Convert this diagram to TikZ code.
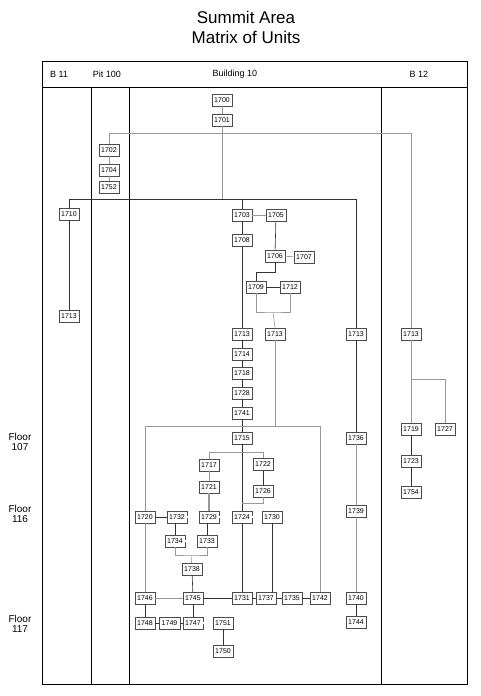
\documentclass[tikz,border=0pt]{standalone}
\usepackage{fontspec}
\setmainfont{Liberation Sans}
\usetikzlibrary{positioning}
\tikzset{
  unit/.style={draw=black!70, fill=white, align=center, inner sep=1pt, minimum width=20.5pt, minimum height=11.5pt, font=\fontsize{7}{8}\selectfont},
  link/.style={draw=black!80, line width=0.6pt},
  palelink/.style={draw=black!40, line width=0.6pt},
  dbllink/.style={draw=black!65, line width=0.45pt, double=white, double distance=1.1pt},
  frame/.style={draw=black, line width=0.9pt},
  colhead/.style={font=\fontsize{9}{10}\selectfont},
  floorlabel/.style={align=center, font=\fontsize{10}{10.5}\selectfont}
}
\begin{document}
\begin{tikzpicture}[x=1pt, y=-1pt]
\useasboundingbox (0,0) rectangle (481,696);
% title
\node[align=center, font=\fontsize{17}{20}\selectfont] (title) at (246,27) {Summit Area\\Matrix of Units};
% table
\draw[frame] (42,61) rectangle (467,684);
\draw[frame] (42,87) -- (467,87);
\foreach \cx in {91,129,381}
  \draw[frame] (\cx,87) -- (\cx,684);
\node[colhead] (hb11) at (59,74) {B 11};
\node[colhead] (hpit) at (107,74) {Pit 100};
\node[colhead] (hb10) at (235,74) {Building 10};
\node[colhead] (hb12) at (419,74) {B 12};
\node[floorlabel] (f107) at (20,442) {Floor\\107};
\node[floorlabel] (f116) at (20,514) {Floor\\116};
\node[floorlabel] (f117) at (20,624) {Floor\\117};

% units
\node[unit] (u1700) at (222,100) {1700};
\node[unit] (u1701) at (222,120) {1701};
\node[unit] (u1702) at (109,150) {1702};
\node[unit] (u1704) at (109,170) {1704};
\node[unit] (u1752) at (109,187) {1752};
\node[unit] (u1710) at (69,214) {1710};
\node[unit] (u1713w) at (69,316) {1713};
\node[unit] (u1703) at (242,215) {1703};
\node[unit] (u1705) at (276,215) {1705};
\node[unit] (u1708) at (242,240) {1708};
\node[unit] (u1706) at (275,256) {1706};
\node[unit] (u1707) at (304,257) {1707};
\node[unit] (u1709) at (256,287) {1709};
\node[unit] (u1712) at (290,287) {1712};
\node[unit] (u1713a) at (242,334) {1713};
\node[unit] (u1713b) at (275,334) {1713};
\node[unit] (u1713c) at (356,334) {1713};
\node[unit] (u1713e) at (411,334) {1713};
\node[unit] (u1714) at (242,354) {1714};
\node[unit] (u1718) at (242,373) {1718};
\node[unit] (u1728) at (242,393) {1728};
\node[unit] (u1741) at (242,413) {1741};
\node[unit] (u1715) at (242,438) {1715};
\node[unit] (u1717) at (209,465) {1717};
\node[unit] (u1722) at (263,464) {1722};
\node[unit] (u1721) at (209,487) {1721};
\node[unit] (u1726) at (263,491) {1726};
\node[unit] (u1720) at (145,517) {1720};
\node[unit] (u1732) at (177,517) {1732};
\node[unit] (u1729) at (209,517) {1729};
\node[unit] (u1724) at (242,517) {1724};
\node[unit] (u1730) at (272,517) {1730};
\node[unit] (u1734) at (175,541) {1734};
\node[unit] (u1733) at (207,541) {1733};
\node[unit] (u1738) at (192,569) {1738};
\node[unit] (u1746) at (145,598) {1746};
\node[unit] (u1745) at (193,598) {1745};
\node[unit] (u1731) at (242,598) {1731};
\node[unit] (u1737) at (266,598) {1737};
\node[unit] (u1735) at (292,598) {1735};
\node[unit] (u1742) at (320,598) {1742};
\node[unit] (u1748) at (145,623) {1748};
\node[unit] (u1749) at (169.5,623) {1749};
\node[unit] (u1747) at (193,623) {1747};
\node[unit] (u1751) at (223,623) {1751};
\node[unit] (u1750) at (223,651) {1750};
\node[unit] (u1736) at (356,438) {1736};
\node[unit] (u1739) at (356,511) {1739};
\node[unit] (u1740) at (356,598) {1740};
\node[unit] (u1744) at (356,622) {1744};
\node[unit] (u1719) at (411,429) {1719};
\node[unit] (u1727) at (445,429) {1727};
\node[unit] (u1723) at (411,461) {1723};
\node[unit] (u1754) at (411,492) {1754};

% bus lines
\coordinate (topbus) at (222,133);
\coordinate (midbus) at (222,199);
\coordinate (lowbus) at (242,426);
\coordinate (join1) at (273,312);
\coordinate (join2) at (191,555);
\coordinate (fork) at (242,452);
\coordinate (b12fork) at (411,379);

\draw[palelink] (u1700) -- (u1701);
\draw[palelink] (u1702.north) |- (u1713e |- topbus) -- (u1713e.north);
\draw[palelink] (u1701) -- (u1701 |- midbus);
\draw[link] (u1710.north) |- (u1713c |- midbus) -- (u1713c.north);
\draw[link] (u1703) -- (u1703 |- midbus);
\draw[palelink] (u1702) -- (u1704);
\draw[palelink] (u1704) -- (u1752);
\draw[link] (u1710) -- (u1713w);

% building 10, upper part
\draw[palelink] (u1703) -- (u1705);
\draw[link] (u1705) -- (u1706);
\draw[palelink] (u1706) -- (u1707);
\draw[link] (u1706.south) -- ++(0,10) -| (u1709.north);
\draw[link] (u1709) -- (u1712);
\draw[palelink] (u1709.south) |- (join1) -| (u1712.south);
\draw[palelink] (join1) -- (u1713b.north);
\foreach \a/\b in {u1703/u1708, u1708/u1713a, u1713a/u1714, u1714/u1718,
                   u1718/u1728, u1728/u1741, u1741/u1715}
  \draw[link] (\a) -- (\b);
\draw[palelink] (u1713b) -- (u1713b |- lowbus);
\draw[palelink] (u1720.north) |- (u1742 |- lowbus) -- (u1742.north);

% building 10, floors 107-117
\draw[link] (u1715) -- (u1724);
\draw[palelink] (u1717.north) |- (u1722.north |- fork) -- (u1722.north);
\draw[link] (u1722) -- (u1726);
\draw[palelink] (u1726.south) -- ++(0,6) -- ++(-21,0);
\draw[palelink] (u1717) -- (u1721);
\draw[palelink, line width=1.3pt] (u1721) -- (u1729);
\draw[link] (u1720) -- (u1732);
\draw[dbllink] (u1732) -- (u1729);
\draw[dbllink] (u1729) -- (u1724);
\draw[dbllink] (u1724) -- (u1730);
\draw[link] (u1734) -- (u1734 |- u1732.south);
\draw[link] (u1733) -- (u1733 |- u1729.south);
\draw[dbllink] (u1734) -- (u1733);
\draw[palelink] (u1734.south) |- (join2) -| (u1733.south);
\draw[palelink] (join2) -- (u1738);
\draw[link] (u1738) -- (u1745);
\draw[palelink] (u1720) -- (u1746);
\draw[link] (u1746) -- (u1748);
\draw[palelink] (u1746) -- (u1745);
\draw[link] (u1745) -- (u1731);
\draw[link] (u1724) -- (u1731);
\draw[link] (u1730) -- (u1730 |- u1737.north);
\draw[link] (u1731) -- (u1737);
\draw[link] (u1737) -- (u1735);
\draw[link] (u1735) -- (u1742);
\draw[link] (u1745) -- (u1747);
\draw[link] (u1748) -- (u1749);
\draw[link] (u1749) -- (u1747);
\draw[dbllink] (u1747) -- (u1751);
\draw[link] (u1751) -- (u1750);

% right branch of building 10
\draw[link] (u1713c) -- (u1736);
\draw[palelink] (u1736) -- (u1739);
\draw[palelink] (u1739) -- (u1740);
\draw[link] (u1740) -- (u1744);

% B 12
\draw[palelink] (u1713e) -- (u1719);
\draw[palelink] (b12fork) -| (u1727.north);
\draw[link] (u1719) -- (u1723);
\draw[link] (u1723) -- (u1754);
\end{tikzpicture}
\end{document}
